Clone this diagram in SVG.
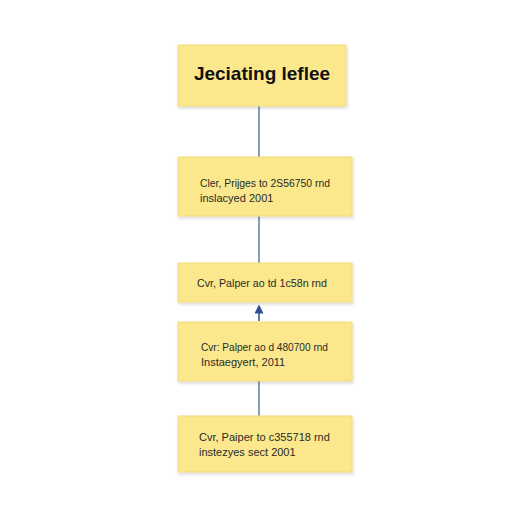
<svg xmlns="http://www.w3.org/2000/svg" width="512" height="512" viewBox="0 0 512 512">
<defs>
<style>
.box{fill:#fbe88c;stroke:#f3dc78;stroke-width:1;filter:url(#sh)}
.t{font-family:"Liberation Sans",Arial,sans-serif;font-size:11px;fill:#2a2a2a}
.h{font-family:"Liberation Sans",Arial,sans-serif;font-size:19px;font-weight:bold;fill:#111}
.ln{stroke:#4b6b8c;stroke-width:1.3;fill:none}
</style>
<filter id="sh" x="-10%" y="-20%" width="120%" height="150%">
<feDropShadow dx="1" dy="2" stdDeviation="1.5" flood-color="#000" flood-opacity="0.15"/>
</filter>
<marker id="ah" viewBox="0 0 10 10" refX="5" refY="5" markerWidth="6" markerHeight="6" orient="auto">
<path d="M0,0 L10,5 L0,10 z" fill="#2f4f9a"/>
</marker>
</defs>
<rect width="512" height="512" fill="#ffffff"/>
<g id="connectors">
<line class="ln" x1="259" y1="106" x2="259" y2="157"/>
<line class="ln" x1="259" y1="216" x2="259" y2="263"/>
<line x1="259" y1="321" x2="259" y2="309" stroke="#2f4f9a" stroke-width="1.5" marker-end="url(#ah)"/>
<line class="ln" x1="259" y1="381" x2="259" y2="416"/>
</g>
<g id="n1">
<rect class="box" x="178" y="45" width="168" height="61"/>
<text class="h" x="262" y="80" text-anchor="middle">Jeciating leflee</text>
</g>
<g id="n2">
<rect class="box" x="178" y="157" width="174" height="59"/>
<text class="t" x="200" y="187" textLength="130" lengthAdjust="spacingAndGlyphs">Cler, Prijges to 2S56750 rnd</text>
<text class="t" x="200" y="202">inslacyed 2001</text>
</g>
<g id="n3">
<rect class="box" x="178" y="263" width="174" height="39"/>
<text class="t" x="197" y="287" textLength="130" lengthAdjust="spacingAndGlyphs">Cvr, Palper ao td 1c58n rnd</text>
</g>
<g id="n4">
<rect class="box" x="178" y="322" width="174" height="59"/>
<text class="t" x="201" y="351" textLength="127" lengthAdjust="spacingAndGlyphs">Cvr: Palper ao d 480700 rnd</text>
<text class="t" x="201" y="366">Instaegyert, 2011</text>
</g>
<g id="n5">
<rect class="box" x="178" y="416" width="174" height="56"/>
<text class="t" x="199" y="441">Cvr, Paiper to c355718 rnd</text>
<text class="t" x="199" y="456">instezyes sect 2001</text>
</g>
</svg>
